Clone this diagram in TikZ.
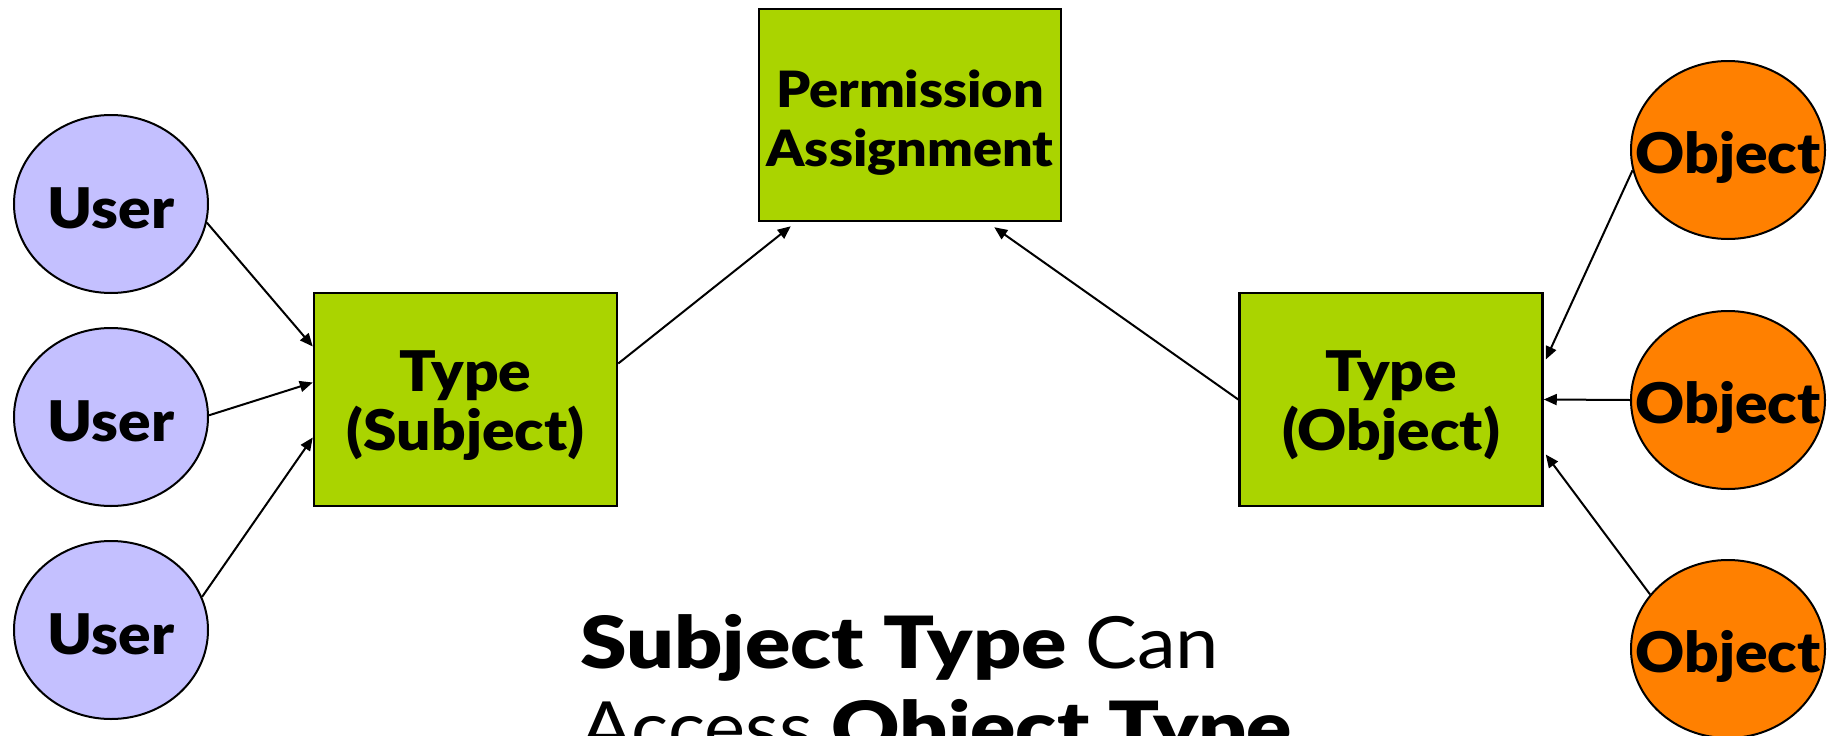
\documentclass[tikz,border=0pt]{standalone}
\usepackage{fontspec}
\setmainfont{Lato}
\newfontfamily\heavy{Lato Black}[FakeStretch=1.08]
\newfontfamily\heavyw{Lato Black}[FakeStretch=1.17]
\newfontfamily\regw{Lato}[FakeStretch=1.08]
\usetikzlibrary{shapes.geometric,arrows.meta,calc}
\definecolor{userfill}{RGB}{196,192,255}
\definecolor{boxfill}{RGB}{170,212,0}
\definecolor{objfill}{RGB}{255,128,0}
\tikzset{
  ellbase/.style={ellipse,draw=black,line width=2pt,minimum width=194pt,minimum height=178pt,inner sep=0pt},
  userell/.style={ellbase,fill=userfill},
  objell/.style={ellbase,fill=objfill},
  elltext/.style={inner sep=0pt,font=\heavy\fontsize{56}{59}\selectfont},
  boxbase/.style={rectangle,draw=black,line width=2.5pt,fill=boxfill,inner sep=0pt},
  typebox/.style={boxbase,minimum width=303pt,minimum height=213pt},
  pabox/.style={boxbase,minimum width=302pt,minimum height=212pt},
  boxtext/.style={align=center,inner sep=0pt,font=\heavy\fontsize{56}{59}\selectfont},
  patext/.style={align=center,inner sep=0pt,font=\heavy\fontsize{50}{59}\selectfont},
  conn/.style={line width=2pt,-{Triangle[length=13pt,width=11pt]}}
}
\begin{document}
\begin{tikzpicture}[x=1pt,y=-1pt]
\clip (0,0) rectangle (1837,736);
\fill[white] (0,0) rectangle (1837,736);
\node[userell,label={[elltext,yshift=-4pt]center:User}] (u1) at (111,204) {};
\node[userell,label={[elltext,yshift=-4pt]center:User}] (u2) at (111,417) {};
\node[userell,label={[elltext,yshift=-4pt]center:User}] (u3) at (111,630) {};
\node[typebox,label={[boxtext,yshift=-6pt]center:Type\\(Subject)}] (ts) at (465.5,399.5) {};
\node[pabox,label={[patext,yshift=-8pt]center:Permission\\Assignment}] (pa) at (910,115) {};
\node[typebox,label={[boxtext,yshift=-6pt]center:Type\\(Object)}] (to) at (1391,399.5) {};
\node[objell,label={[elltext,yshift=-7pt]center:Object}] (o1) at (1728,150) {};
\node[objell,label={[elltext,yshift=-7pt]center:Object}] (o2) at (1728,400) {};
\node[objell,label={[elltext,yshift=-7pt]center:Object}] (o3) at (1728,649) {};
\draw[conn] (u1.-11) -- ([yshift=53pt]ts.west);
\draw[conn] (u2.1) -- ([yshift=17pt]ts.west);
\draw[conn] (u3.20) -- ([yshift=-38pt]ts.west);
\draw[conn] ([yshift=36pt]ts.east) -- ([xshift=33pt,yshift=-4pt]pa.south west);
\draw[conn] (to.west) -- ([xshift=-68pt,yshift=-5pt]pa.south east);
\draw[conn] (o1.192) -- ([xshift=2pt,yshift=40pt]to.east);
\draw[conn] (o2.west) -- (to.east);
\draw[conn] (o3.145) -- ([xshift=2pt,yshift=-55pt]to.east);
\node[anchor=base west,align=left,inner sep=0pt,font=\fontsize{72}{85}\selectfont] (cap) at (580,753)
  {{\heavyw Subject Type} {\regw Can}\\{\regw Access} {\heavyw Object Type}};
\end{tikzpicture}
\end{document}
